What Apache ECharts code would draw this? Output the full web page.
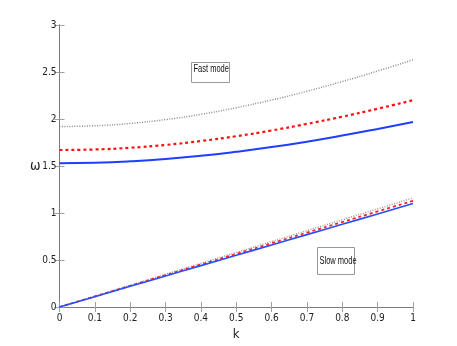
<!DOCTYPE html>
<html>
<head>
<meta charset="utf-8">
<script src="https://cdn.jsdelivr.net/npm/echarts@6/dist/echarts.min.js"></script>
<style>
  html, body { margin: 0; padding: 0; background: #fff; }
  #chart { width: 457px; height: 346px; }
</style>
</head>
<body>
<div id="chart"></div>
<script>
const kValues = [0, 0.1, 0.2, 0.3, 0.4, 0.5, 0.6, 0.7, 0.8, 0.9, 1]

// fast mode branches
const fastBlue = [1.53, 1.535, 1.55, 1.574, 1.608, 1.651, 1.701, 1.759, 1.824, 1.894, 1.967]
const fastRed = [1.67, 1.676, 1.694, 1.724, 1.766, 1.817, 1.878, 1.948, 2.025, 2.109, 2.2]
const fastGray = [1.92, 1.928, 1.953, 1.994, 2.05, 2.12, 2.202, 2.295, 2.399, 2.51, 2.63]

// slow mode branches
const slowBlue = [0, 0.11, 0.22, 0.33, 0.44, 0.55, 0.66, 0.77, 0.88, 0.99, 1.1]
const slowRed = [0, 0.113, 0.226, 0.339, 0.452, 0.565, 0.678, 0.791, 0.904, 1.017, 1.13]
const slowGray = [0, 0.116, 0.232, 0.348, 0.464, 0.58, 0.696, 0.812, 0.928, 1.044, 1.16]

const font = '"Liberation Sans Narrow", "DejaVu Sans Condensed", "Liberation Sans", Arial, sans-serif'
const axisGray = '#7a7a7a'

const pairs = (ys) => kValues.map((k, i) => [k, ys[i]])

const line = (ys, color, type, width) => ({
  type: 'line',
  data: pairs(ys),
  showSymbol: false,
  smooth: true,
  silent: true,
  lineStyle: { color: color, type: type, width: width },
})

const boxAxis = {
  axisLine: { show: true, lineStyle: { color: axisGray, width: 1 } },
  axisTick: { show: true, inside: true, length: 5, lineStyle: { color: '#a0a0a0' } },
  splitLine: { show: false },
}

const chart = echarts.init(document.getElementById('chart'))
chart.setOption({
  animation: false,
  backgroundColor: '#fff',
  grid: { left: 59.5, right: 44, top: 25, bottom: 39 },
  xAxis: [
    {
      type: 'value', min: 0, max: 1, interval: 0.1,
      name: 'k', nameLocation: 'middle', nameGap: 20,
      nameTextStyle: { fontFamily: font, fontSize: 13, color: '#222' },
      axisLabel: { fontFamily: font, fontSize: 10, color: '#222', margin: 6 },
      ...boxAxis,
    },
    {
      type: 'value', min: 0, max: 1, interval: 0.1, position: 'top',
      axisLabel: { show: false },
      ...boxAxis,
    },
  ],
  yAxis: [
    {
      type: 'value', min: 0, max: 3, interval: 0.5,
      name: 'ω', nameLocation: 'middle', nameGap: 19, nameRotate: 0,
      nameMoveOverlap: false,
      nameTextStyle: { fontFamily: font, fontSize: 14, color: '#222' },
      axisLabel: { fontFamily: font, fontSize: 10, color: '#222', margin: 3 },
      ...boxAxis,
    },
    {
      type: 'value', min: 0, max: 3, interval: 0.5, position: 'right',
      axisLabel: { show: false },
      ...boxAxis,
    },
  ],
  series: [
    line(fastGray, '#8c8c8c', [1, 1.5], 1.5),
    line(fastRed, '#ff1010', [3, 3], 2.2),
    line(fastBlue, '#1f3fff', 'solid', 2),
    line(slowGray, '#9a9a9a', [1, 1.5], 1.5),
    line(slowRed, '#ff2020', [3, 3], 1.8),
    line(slowBlue, '#2a4cff', 'solid', 1.6),
  ],
  graphic: [
    {
      type: 'rect', x: 191.5, y: 62.5,
      shape: { width: 38, height: 20 },
      style: { fill: '#fff', stroke: '#999', lineWidth: 1 },
    },
    {
      type: 'text', x: 193.5, y: 64, scaleX: 0.75,
      style: { text: 'Fast mode', fontFamily: '"Liberation Sans", Arial, sans-serif', fontSize: 10, fill: '#111' },
    },
    {
      type: 'rect', x: 317.5, y: 247.5,
      shape: { width: 37, height: 27 },
      style: { fill: '#fff', stroke: '#999', lineWidth: 1 },
    },
    {
      type: 'text', x: 319.5, y: 256, scaleX: 0.75,
      style: { text: 'Slow mode', fontFamily: '"Liberation Sans", Arial, sans-serif', fontSize: 10, fill: '#111' },
    },
  ],
})
</script>
</body>
</html>
